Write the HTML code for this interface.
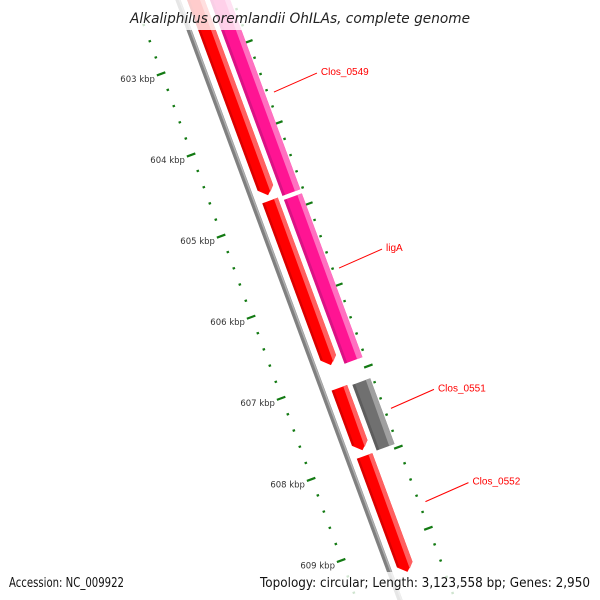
<!DOCTYPE html>
<html><head><meta charset="utf-8"><style>
html,body{margin:0;padding:0;background:#fff;width:600px;height:600px;overflow:hidden;}
svg{display:block;font-family:"DejaVu Sans","Liberation Sans",sans-serif;overflow:hidden;}
</style></head><body>
<svg id="map" width="600" height="600" viewBox="0 0 600 600">
<g id="ticks"></g>
<g id="genes"></g>
<g id="labels"></g>
<rect x="0" y="0" width="600" height="30" fill="#fff" opacity="0.8"/>
<text x="300" y="23" text-anchor="middle" font-size="14" font-style="italic" fill="#222" textLength="340" lengthAdjust="spacingAndGlyphs">Alkaliphilus oremlandii OhILAs, complete genome</text>
<rect x="0" y="572" width="600" height="28" fill="#fff" opacity="0.8"/>
<text x="9" y="587" font-size="13" fill="#111" textLength="115" lengthAdjust="spacingAndGlyphs">Accession: NC_009922</text>
<text x="260" y="587" font-size="13" fill="#111" textLength="330" lengthAdjust="spacingAndGlyphs">Topology: circular; Length: 3,123,558 bp; Genes: 2,950</text>
</svg>
<script>
// data (kbp)
const geneNames = ["Clos_0548","Clos_0549","Clos_0550","ligA","Clos_0551a","Clos_0551","Clos_0552"];
const geneStart = [601.5, 601.5, 604.81, 604.86, 607.12, 607.14, 607.96];
const geneEnd   = [604.745, 604.81, 606.84, 606.88, 607.89, 607.95, 609.39];
const geneLane  = ["red","pink","red","pink","red","gray","red"];
const geneArrow = [true,false,true,false,true,false,true];
const majorTicks = [603,604,605,606,607,608,609];
const tickLabels = ["603 kbp","604 kbp","605 kbp","606 kbp","607 kbp","608 kbp","609 kbp"];
const calloutNames = ["Clos_0549","ligA","Clos_0551","Clos_0552"];
const calloutPos = [603.65, 605.82, 607.55, 608.7];

const NS="http://www.w3.org/2000/svg";
const Y0=59.5, PX=81.1, BASE=603;
const ux=0.347, uy=0.938;
function ys(k){return Y0+(k-BASE)*PX;}
function pt(k,d){const y=ys(k);const xb=178+0.37*y;return [xb+d*uy, y-d*ux];}
function mk(tag,attrs,parent){const e=document.createElementNS(NS,tag);for(const a in attrs)e.setAttribute(a,attrs[a]);parent.appendChild(e);return e;}
const tg=document.getElementById('ticks'), gg=document.getElementById('genes'), lg=document.getElementById('labels');

let a=pt(601.8,0), b=pt(609.9,0);
let bb=mk('line',{x1:a[0],y1:a[1],x2:b[0],y2:b[1],stroke:'#808080','stroke-width':5},gg);


let bb2=mk('line',{x1:a[0]+1.5,y1:a[1],x2:b[0]+1.5,y2:b[1],stroke:'#b0b0b0','stroke-width':1.5},gg);



for(let i=0;i<=37;i++){
  const k=602.4+i*0.2; const isMaj=Math.abs(k-Math.round(k))<0.01;
  const spans=isMaj?[[-46,-37],[47,56]]:[[-42,-39.5],[50.5,53]];
  spans.forEach((s,j)=>{const p=pt(k,s[0]),q=pt(k,s[1]);
    if(p[1]>598&&q[1]>598)return;
    const t=mk('line',{x1:p[0],y1:p[1],x2:q[0],y2:q[1],stroke:'#137a13','stroke-width':2.2},tg);
    
    });
}
majorTicks.forEach((k,i)=>{const p=pt(k,-47);
  const t=mk('text',{x:p[0]-1,y:p[1]+6,'text-anchor':'end','font-size':8.5,fill:'#333'},lg);
  t.textContent=tickLabels[i];
  
  });

const lanes={red:[8.5,25,'#ff0000','#ff6060','#c00000'],pink:[30,49,'#ff1493','#ff70c0','#c0107a'],gray:[30,49,'#707070','#a0a0a0','#505050']};
geneStart.forEach((s,i)=>{
  const L=lanes[geneLane[i]], e=geneEnd[i], ah=geneArrow[i]?0.09:0;
  const g=mk('g',{},gg);
  
  
  const P=[pt(s,L[0]),pt(s,L[1]),pt(e-ah,L[1])];
  if(ah)P.push(pt(e,(L[0]+L[1])/2));
  P.push(pt(e-ah,L[0]));
  mk('polygon',{points:P.map(p=>p.join(',')).join(' '),fill:L[2]},g);
  const w=L[1]-L[0];
  const hl=[pt(s,L[1]-w*0.25),pt(s,L[1]),pt(e-ah,L[1]),pt(e-ah*0.3,L[1]-w*0.3)];
  mk('polygon',{points:hl.map(p=>p.join(',')).join(' '),fill:L[3]},g);
  const dk=[pt(s,L[0]),pt(s,L[0]+w*0.15),pt(e-ah,L[0]+w*0.15),pt(e-ah,L[0])];
  mk('polygon',{points:dk.map(p=>p.join(',')).join(' '),fill:L[4],opacity:0.6},g);
});

calloutNames.forEach((n,i)=>{const p=pt(calloutPos[i],58);
  const q=[p[0]+43,p[1]-19];
  const l=mk('line',{x1:p[0],y1:p[1],x2:q[0],y2:q[1],stroke:'#ff0000','stroke-width':1},lg);
  
  
  const t=mk('text',{x:q[0]+4,y:q[1]+2,'font-size':10,fill:'#ff0000','font-family':'"Liberation Sans",sans-serif'},lg);
  t.textContent=n;
  
  });
</script>
</body></html>
